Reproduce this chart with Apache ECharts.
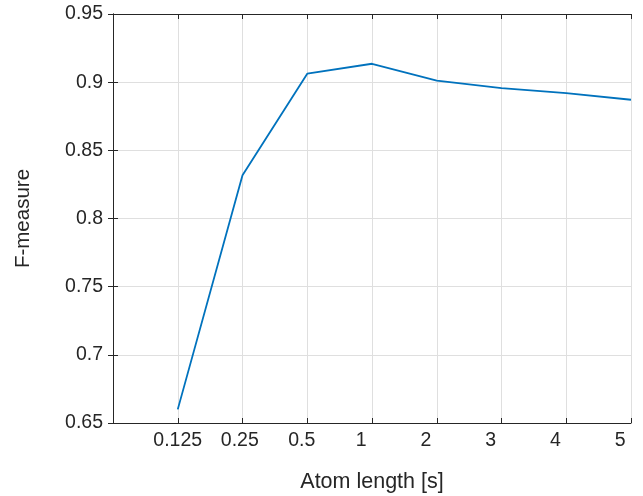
<!DOCTYPE html>
<html>
<head>
<meta charset="utf-8">
<script src="https://cdn.jsdelivr.net/npm/echarts@6/dist/echarts.min.js"></script>
<style>html,body{margin:0;padding:0;background:#fff}#c{width:643px;height:496px}</style>
</head>
<body>
<div id="c"></div>
<script>
const categories = ['0.125', '0.25', '0.5', '1', '2', '3', '4', '5'];
const fMeasure = [0.660, 0.8317, 0.9062, 0.9135, 0.9011, 0.8956, 0.892, 0.8871];
const yTicks = [0.65, 0.7, 0.75, 0.8, 0.85, 0.9, 0.95];

const font = 'Liberation Sans, Arial, Helvetica, sans-serif';
const dark = '#262626';
const chart = echarts.init(document.getElementById('c'), null, {renderer: 'canvas'});
const seriesData = categories.map((c, i) => [i + 1, fMeasure[i]]);
const padLabel = s => s + ' '.repeat(5 - s.length);

const common = {
  axisLine: {show: true, lineStyle: {color: dark, width: 1}},
  axisTick: {show: true, inside: true, length: 5, lineStyle: {color: dark, width: 1}},
};

chart.setOption({
  animation: false,
  backgroundColor: '#fff',
  grid: {left: 113, right: 12, top: 14, bottom: 73, containLabel: false, outerBoundsMode: 'none'},
  xAxis: [{
    type: 'value', min: 0, max: categories.length, interval: 1,
    position: 'bottom',
    ...common,
    axisLabel: {
      color: dark, fontFamily: font, fontSize: 19.5, margin: 8,
      formatter: v => (v >= 1 && v <= categories.length) ? padLabel(categories[v - 1]) : ''
    },
    splitLine: {show: true, lineStyle: {color: '#dfdfdf', width: 1}},
    name: 'Atom length [s]', nameLocation: 'middle', nameGap: 48,
    nameTextStyle: {color: dark, fontFamily: font, fontSize: 21.5}
  }, {
    type: 'value', min: 0, max: categories.length, interval: 1,
    position: 'top',
    ...common,
    axisLabel: {show: false},
    splitLine: {show: false}
  }],
  yAxis: [{
    type: 'value', min: yTicks[0], max: yTicks[yTicks.length - 1], interval: 0.05,
    position: 'left',
    ...common,
    axisLabel: {color: dark, fontFamily: font, fontSize: 19.5, margin: 10,
      formatter: v => String(+v.toFixed(2))},
    splitLine: {show: true, lineStyle: {color: '#dfdfdf', width: 1}},
    name: 'F-measure', nameLocation: 'middle', nameGap: 79, nameRotate: 90,
    nameTextStyle: {color: dark, fontFamily: font, fontSize: 20.5}
  }, {
    type: 'value', min: yTicks[0], max: yTicks[yTicks.length - 1], interval: 0.05,
    position: 'right',
    ...common,
    axisLabel: {show: false},
    splitLine: {show: false}
  }],
  series: [{
    type: 'line',
    data: seriesData,
    showSymbol: false,
    lineStyle: {color: '#0072BD', width: 1.8},
    itemStyle: {color: '#0072BD'}
  }]
});
</script>
</body>
</html>
